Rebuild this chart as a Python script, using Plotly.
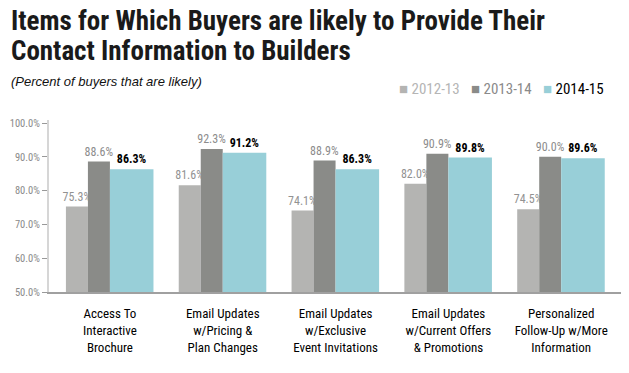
import plotly.graph_objects as go

categories = ["Access To<br>Interactive<br>Brochure",
              "Email Updates<br>w/Pricing &<br>Plan Changes",
              "Email Updates<br>w/Exclusive<br>Event Invitations",
              "Email Updates<br>w/Current Offers<br>& Promotions",
              "Personalized<br>Follow-Up w/More<br>Information"]
series_names = ["2012-13", "2013-14", "2014-15"]
v2012 = [75.3, 81.6, 74.1, 82.0, 74.5]
v2013 = [88.6, 92.3, 88.9, 90.9, 90.0]
v2015 = [86.3, 91.2, 86.3, 89.8, 89.6]
y_ticks = [50, 60, 70, 80, 90, 100]
y_ticklabels = ["50.0%", "60.0%", "70.0%", "80.0%", "90.0%", "100.0%"]

FONT = "Roboto Condensed, Liberation Sans Narrow, sans-serif"
colors = ["#b4b4b2", "#8a8b88", "#98cfd8"]
label_colors = ["#929292", "#8c8c8c", "#000000"]
legend_colors = ["#b5b5b5", "#8a8a8a", "#000000"]
widths = [0.195, 0.195, 0.386]
offsets = [-0.39, -0.195, 0.0]

# plot area in pixels
L, R, T, B = 49, 621, 120, 292
PW, PH = R - L, B - T
def px(xp):
    return (xp - L) / PW
def py(yp):
    return (B - yp) / PH

x = list(range(len(categories)))
fig = go.Figure()
for i, vals in enumerate([v2012, v2013, v2015]):
    fig.add_trace(go.Bar(
        x=x, y=vals, width=widths[i], offset=offsets[i],
        name=series_names[i], showlegend=False,
        marker=dict(color=colors[i], line=dict(width=0)),
        text=[f"{v:.1f}%" for v in vals], textposition="outside",
        textangle=0, constraintext="none",
        textfont=dict(family=FONT, size=12, color=label_colors[i]),
        texttemplate=("<b>%{text}</b>" if i == 2 else "%{text}"),
        cliponaxis=False,
    ))

fig.update_layout(
    width=629, height=373,
    margin=dict(l=L, r=629 - R, t=T, b=373 - B, autoexpand=False),
    barmode="overlay",
    plot_bgcolor="white", paper_bgcolor="white",
    font=dict(family=FONT, color="#000"),
    xaxis=dict(range=[-0.54, 4.53], tickmode="array", tickvals=x, ticktext=categories,
               showline=True, linecolor="#a0a0a0", linewidth=1.5, ticks="",
               tickangle=0, ticklabelstandoff=9,
               tickfont=dict(size=13, family=FONT, color="#000"), showgrid=False,
               zeroline=False, automargin=False),
    yaxis=dict(range=[50, 100.9], tickmode="array", tickvals=y_ticks, ticktext=y_ticklabels,
               showline=True, linecolor="#d6d6d6", linewidth=2, ticks="outside",
               ticklen=5, tickcolor="#999", tickwidth=1,
               tickfont=dict(size=10.5, family=FONT, color="#8a8a8a"),
               showgrid=False, zeroline=False, automargin=False),
)
fig.add_annotation(xref="paper", yref="paper", x=px(9), y=py(20.5), xanchor="left", yanchor="middle",
                   showarrow=False, text="<b>Items for Which Buyers are likely to Provide Their</b>",
                   font=dict(size=27, family=FONT, color="#1a1a1a"))
fig.add_annotation(xref="paper", yref="paper", x=px(9), y=py(51), xanchor="left", yanchor="middle",
                   showarrow=False, text="<b>Contact Information to Builders</b>",
                   font=dict(size=27, family=FONT, color="#1a1a1a"))
fig.add_annotation(xref="paper", yref="paper", x=px(9), y=py(81), xanchor="left", yanchor="middle",
                   showarrow=False, text="<i>(Percent of buyers that are likely)</i>",
                   font=dict(size=13, family="Liberation Sans, sans-serif", color="#111"))
legend_x = [397, 469, 541]
for i, name in enumerate(series_names):
    fig.add_annotation(xref="paper", yref="paper", x=px(legend_x[i]), y=py(89), xanchor="left",
                       yanchor="middle", showarrow=False,
                       text=f"<span style='color:{colors[i]}'>■</span> "
                            f"<span style='color:{legend_colors[i]}'>{name}</span>",
                       font=dict(size=15, family=FONT))
fig.write_html("out.html", config={"displayModeBar": False},
               post_script="document.body.style.margin='0';")
